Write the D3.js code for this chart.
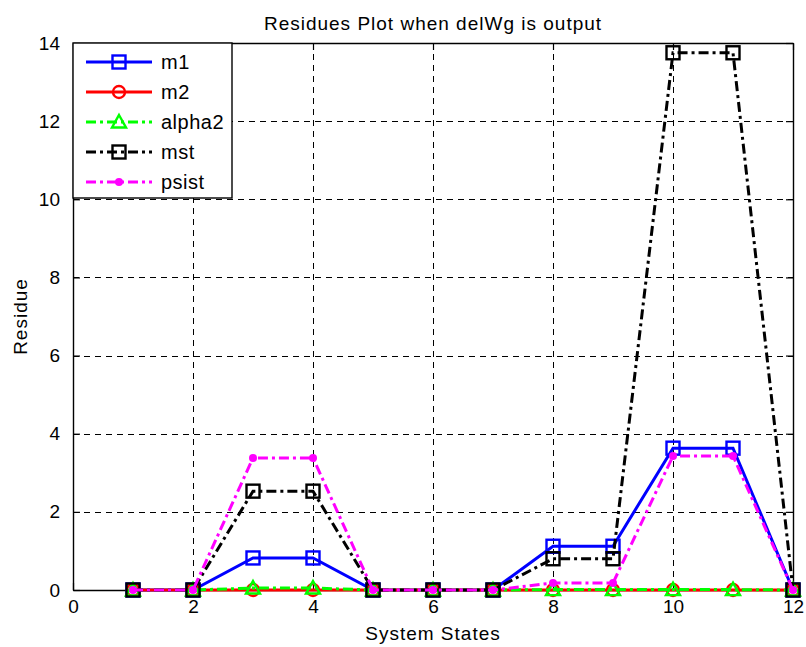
<!DOCTYPE html>
<html>
<head>
<meta charset="utf-8">
<script src="https://cdn.jsdelivr.net/npm/d3@7"></script>
<style>
  body { margin: 0; background: #fff; }
  text { font-family: "Liberation Sans", Arial, sans-serif; fill: #000; }
</style>
</head>
<body>
<div id="chart"></div>
<script>
// data
const states = [1, 2, 3, 4, 5, 6, 7, 8, 9, 10, 11, 12];
const m1     = [0, 0, 0.82, 0.82, 0, 0, 0, 1.12, 1.12, 3.63, 3.63, 0];
const m2     = [0, 0, 0, 0, 0, 0, 0, 0, 0, 0, 0, 0];
const alpha2 = [0, 0, 0.05, 0.05, 0, 0, 0, 0.01, 0.01, 0.01, 0.01, 0];
const mst    = [0, 0, 2.53, 2.53, 0, 0, 0, 0.8, 0.8, 13.75, 13.75, 0];
const psist  = [0, 0, 3.38, 3.38, 0, 0, 0, 0.18, 0.18, 3.43, 3.43, 0];
const xTicks = [0, 2, 4, 6, 8, 10, 12];
const yTicks = [0, 2, 4, 6, 8, 10, 12, 14];

const series = [
  { name: "m1", values: m1, color: "#0000ff", dash: null, marker: "square" },
  { name: "m2", values: m2, color: "#ff0000", dash: null, marker: "circle" },
  { name: "alpha2", values: alpha2, color: "#00ff00", dash: "10,4,3,4", marker: "triangle" },
  { name: "mst", values: mst, color: "#000000", dash: "10,4,3,4", marker: "square" },
  { name: "psist", values: psist, color: "#ff00ff", dash: "10,4,3,4", marker: "dot" }
];

var W = 806, H = 647;
var margin = {top: 43, right: 13, bottom: 57, left: 73},
    width = W - margin.left - margin.right,
    height = H - margin.top - margin.bottom;

var svg = d3.select("#chart").append("svg")
    .attr("width", W)
    .attr("height", H);

var g = svg.append("g")
    .attr("transform", "translate(" + margin.left + "," + margin.top + ")");

var x = d3.scaleLinear().domain([0, 12]).range([0, width]);
var y = d3.scaleLinear().domain([0, 14]).range([height, 0]);

// grid
g.append("g").selectAll("line")
    .data(xTicks.filter(d => d > 0 && d < 12))
    .join("line")
    .attr("x1", d => Math.round(x(d)) + 0.5).attr("x2", d => Math.round(x(d)) + 0.5)
    .attr("y1", 0).attr("y2", height)
    .attr("stroke", "#000").attr("stroke-width", 1)
    .attr("stroke-dasharray", "6,5");
g.append("g").selectAll("line")
    .data(yTicks.filter(d => d > 0 && d < 14))
    .join("line")
    .attr("y1", d => Math.round(y(d)) + 0.5).attr("y2", d => Math.round(y(d)) + 0.5)
    .attr("x1", 0).attr("x2", width)
    .attr("stroke", "#000").attr("stroke-width", 1)
    .attr("stroke-dasharray", "6,5");

// axes with inner ticks on all four sides
var fontSize = "19px";
var xb = g.append("g").attr("transform", "translate(0," + height + ")")
    .call(d3.axisBottom(x).tickValues(xTicks).tickSizeInner(-7).tickSizeOuter(0).tickPadding(10));
var yl = g.append("g")
    .call(d3.axisLeft(y).tickValues(yTicks).tickSizeInner(-7).tickSizeOuter(0).tickPadding(13));
var xt = g.append("g")
    .call(d3.axisTop(x).tickValues(xTicks).tickSizeInner(-7).tickSizeOuter(0).tickFormat(""));
var yr = g.append("g").attr("transform", "translate(" + width + ",0)")
    .call(d3.axisRight(y).tickValues(yTicks).tickSizeInner(-7).tickSizeOuter(0).tickFormat(""));

[xb, yl, xt, yr].forEach(function(a) {
  a.select(".domain").attr("stroke", "#000").attr("stroke-width", 1.4);
  a.selectAll(".tick line").attr("stroke", "#000").attr("stroke-width", 1.2);
  a.selectAll("text").style("font-size", fontSize).style("font-family", "Liberation Sans, Arial, sans-serif").attr("fill", "#000");
});

// lines
var line = d3.line()
    .x((d, i) => x(states[i]))
    .y(d => y(d));

function drawMarker(sel, s, cx, cy) {
  if (s.marker === "square") {
    sel.append("rect")
      .attr("x", cx - 6.5).attr("y", cy - 6.5)
      .attr("width", 13).attr("height", 13)
      .attr("fill", "none").attr("stroke", s.color).attr("stroke-width", 2.4);
  } else if (s.marker === "circle") {
    sel.append("circle")
      .attr("cx", cx).attr("cy", cy).attr("r", 6)
      .attr("fill", "none").attr("stroke", s.color).attr("stroke-width", 2.4);
  } else if (s.marker === "triangle") {
    sel.append("path")
      .attr("d", "M" + cx + "," + (cy - 7) + "L" + (cx + 7) + "," + (cy + 5.5) + "L" + (cx - 7) + "," + (cy + 5.5) + "Z")
      .attr("fill", "none").attr("stroke", s.color).attr("stroke-width", 2.4);
  } else {
    sel.append("circle")
      .attr("cx", cx).attr("cy", cy).attr("r", 4)
      .attr("fill", s.color).attr("stroke", "none");
  }
}

for (let s of series) {
  var sg = g.append("g");
  sg.append("path")
    .datum(s.values)
    .attr("d", line)
    .attr("fill", "none")
    .attr("stroke", s.color)
    .attr("stroke-width", 3)
    .attr("stroke-dasharray", s.dash);
  s.values.forEach(function(v, i) {
    drawMarker(sg, s, x(states[i]), y(v));
  });
}

// legend
var lg = g.append("g");
lg.append("rect")
    .attr("x", 0).attr("y", 0)
    .attr("width", 159).attr("height", 155)
    .attr("fill", "#fff").attr("stroke", "#000").attr("stroke-width", 1.4);
series.forEach(function(s, i) {
  var cy = 19 + i * 30;
  lg.append("line")
    .attr("x1", 13).attr("x2", 79)
    .attr("y1", cy).attr("y2", cy)
    .attr("stroke", s.color).attr("stroke-width", 3)
    .attr("stroke-dasharray", s.dash);
  drawMarker(lg, s, 46, cy);
  lg.append("text")
    .attr("x", 88).attr("y", cy)
    .attr("dy", "0.36em")
    .style("font-size", "20px")
    .style("letter-spacing", "0.5px")
    .text(s.name);
});

// title and axis labels
svg.append("text")
    .attr("x", margin.left + width / 2).attr("y", 30)
    .attr("text-anchor", "middle")
    .style("font-size", "19px")
    .style("letter-spacing", "1px")
    .text("Residues Plot when delWg is output");

svg.append("text")
    .attr("x", margin.left + width / 2).attr("y", 640)
    .attr("text-anchor", "middle")
    .style("font-size", "19px")
    .style("letter-spacing", "1px")
    .text("System States");

svg.append("text")
    .attr("transform", "translate(27," + (margin.top + height / 2) + ") rotate(-90)")
    .attr("text-anchor", "middle")
    .style("font-size", "19px")
    .style("letter-spacing", "1px")
    .text("Residue");
</script>
</body>
</html>
